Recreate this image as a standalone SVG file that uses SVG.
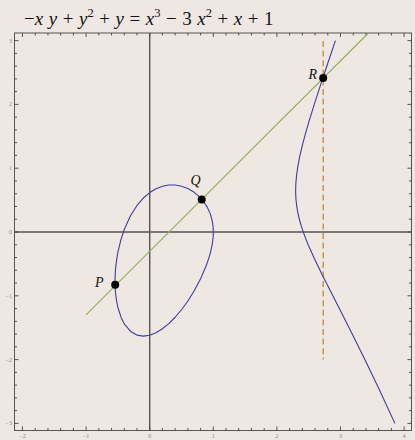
<svg xmlns="http://www.w3.org/2000/svg" width="415" height="440" viewBox="0 0 415 440">
<style>
.bg{fill:#efe7e1}
.frame{fill:none;stroke:#555;stroke-width:1}
.tick{fill:none;stroke:#444;stroke-width:0.9}
.axis{fill:none;stroke:#555;stroke-width:1.4}
.tl{font-family:"Liberation Serif",serif;font-size:6px;fill:#888}
.title{font-family:"Liberation Serif",serif;font-size:19px;fill:#111;word-spacing:0.8px}
.it{font-style:italic}
.curve{fill:none;stroke:#3d3d9e;stroke-width:1.1;stroke-linejoin:round}
.secant{fill:none;stroke:#8db05a;stroke-width:1.1}
.dash{fill:none;stroke:#c48a32;stroke-width:1.3;stroke-dasharray:6 3.6}
.pt{fill:#000}
.lab{font-family:"Liberation Serif",serif;font-style:italic;font-size:14px;fill:#111}
</style>
<rect class="bg" x="0" y="0" width="415" height="440"/>
<text class="title" x="24" y="24.5">−<tspan class="it">x</tspan> <tspan class="it">y</tspan> + <tspan class="it">y</tspan><tspan font-size="12.5" dy="-7.5">2</tspan><tspan dy="7.5"> + </tspan><tspan class="it">y</tspan> = <tspan class="it">x</tspan><tspan font-size="12.5" dy="-7.5">3</tspan><tspan dy="7.5"> − 3 </tspan><tspan class="it">x</tspan><tspan font-size="12.5" dy="-7.5">2</tspan><tspan dy="7.5"> + </tspan><tspan class="it">x</tspan> + 1</text>
<g id="axes">
<path class="axis" d="M149.7 33V430.5M14.5 232H411.5"/>
<rect class="frame" x="14.5" y="33" width="397" height="397.5"/>
<path class="tick" d="M22.5 430.5v-4M86.1 430.5v-4M149.7 430.5v-4M213.3 430.5v-4M276.9 430.5v-4M340.5 430.5v-4M404.1 430.5v-4M22.5 33v4M86.1 33v4M149.7 33v4M213.3 33v4M276.9 33v4M340.5 33v4M404.1 33v4M14.5 40.6h4M14.5 104.4h4M14.5 168.2h4M14.5 232h4M14.5 295.8h4M14.5 359.6h4M14.5 423.4h4M411.5 40.6h-4M411.5 104.4h-4M411.5 168.2h-4M411.5 232h-4M411.5 295.8h-4M411.5 359.6h-4M411.5 423.4h-4"/>
<path class="tick" d="M35.22 430.5v-2.5M47.94 430.5v-2.5M60.66 430.5v-2.5M73.38 430.5v-2.5M98.82 430.5v-2.5M111.54 430.5v-2.5M124.26 430.5v-2.5M136.98 430.5v-2.5M162.42 430.5v-2.5M175.14 430.5v-2.5M187.86 430.5v-2.5M200.58 430.5v-2.5M226.02 430.5v-2.5M238.74 430.5v-2.5M251.46 430.5v-2.5M264.18 430.5v-2.5M289.62 430.5v-2.5M302.34 430.5v-2.5M315.06 430.5v-2.5M327.78 430.5v-2.5M353.22 430.5v-2.5M365.94 430.5v-2.5M378.66 430.5v-2.5M391.38 430.5v-2.5M35.22 33v2.5M47.94 33v2.5M60.66 33v2.5M73.38 33v2.5M98.82 33v2.5M111.54 33v2.5M124.26 33v2.5M136.98 33v2.5M162.42 33v2.5M175.14 33v2.5M187.86 33v2.5M200.58 33v2.5M226.02 33v2.5M238.74 33v2.5M251.46 33v2.5M264.18 33v2.5M289.62 33v2.5M302.34 33v2.5M315.06 33v2.5M327.78 33v2.5M353.22 33v2.5M365.94 33v2.5M378.66 33v2.5M391.38 33v2.5M14.5 53.36h2.5M14.5 66.12h2.5M14.5 78.88h2.5M14.5 91.64h2.5M14.5 117.16h2.5M14.5 129.92h2.5M14.5 142.68h2.5M14.5 155.44h2.5M14.5 180.96h2.5M14.5 193.72h2.5M14.5 206.48h2.5M14.5 219.24h2.5M14.5 244.76h2.5M14.5 257.52h2.5M14.5 270.28h2.5M14.5 283.04h2.5M14.5 308.56h2.5M14.5 321.32h2.5M14.5 334.08h2.5M14.5 346.84h2.5M14.5 372.36h2.5M14.5 385.12h2.5M14.5 397.88h2.5M14.5 410.64h2.5M411.5 53.36h-2.5M411.5 66.12h-2.5M411.5 78.88h-2.5M411.5 91.64h-2.5M411.5 117.16h-2.5M411.5 129.92h-2.5M411.5 142.68h-2.5M411.5 155.44h-2.5M411.5 180.96h-2.5M411.5 193.72h-2.5M411.5 206.48h-2.5M411.5 219.24h-2.5M411.5 244.76h-2.5M411.5 257.52h-2.5M411.5 270.28h-2.5M411.5 283.04h-2.5M411.5 308.56h-2.5M411.5 321.32h-2.5M411.5 334.08h-2.5M411.5 346.84h-2.5M411.5 372.36h-2.5M411.5 385.12h-2.5M411.5 397.88h-2.5M411.5 410.64h-2.5"/>
<g class="tl" text-anchor="middle">
<text x="22.5" y="438">−2</text><text x="86.1" y="438">−1</text><text x="149.7" y="438">0</text><text x="213.3" y="438">1</text><text x="276.9" y="438">2</text><text x="340.5" y="438">3</text><text x="404.1" y="438">4</text>
</g>
<g class="tl" text-anchor="end">
<text x="12" y="42.6">3</text><text x="12" y="106.4">2</text><text x="12" y="170.2">1</text><text x="12" y="234">0</text><text x="12" y="297.8">−1</text><text x="12" y="361.6">−2</text><text x="12" y="425.4">−3</text>
</g>
</g>
<g id="connectors">
<path class="dash" d="M323.2 41V359.6"/>
<path class="secant" d="M86 314.9L368.4 33"/>
</g>
<g id="curve">
<path class="curve" d="M115.06 281.28L115.09 278.27L115.17 275.68L115.36 271.96L115.67 267.86L116.63 259.74L117.9 252.22L121.08 239.08L124.26 229.52L130.62 215.5L136.98 205.47L143.34 198.03L149.7 192.57L156.06 188.71L162.42 186.24L168.78 185.04L175.14 185.02L181.5 186.17L187.86 188.56L194.22 192.34L200.58 197.92L206.94 206.55L210.12 213.37L212.03 219.86L212.66 223.29L212.98 225.78L213.24 229.18L213.3 232L213.24 234.88L212.98 238.54L212.66 241.35L212.03 245.42L210.12 253.82L206.94 263.83L200.58 278.84L194.22 290.8L187.86 300.96L181.5 309.73L175.14 317.26L168.78 323.62L162.42 328.8L156.06 332.71L149.7 335.23L143.34 336.15L136.98 335.09L130.62 331.44L124.26 323.8L121.08 317.43L117.9 307.48L116.63 301.24L115.67 294.08L115.36 290.29L115.17 286.77L115.09 284.25Z"/>
<path class="curve" d="M335.41 40.63L327.78 63.3L321.42 82.38L315.06 101.89L308.7 122.37L305.52 133.36L302.34 145.31L299.8 156.22L297.89 166.14L296.62 174.96L295.98 181.62L295.73 186.29L295.64 190.7L295.73 195.01L295.98 199.44L296.62 205.46L297.89 213L299.8 221.01L302.34 229.37L305.52 238.13L308.7 245.93L315.06 260.03L321.42 273.16L327.78 285.86L335.41 300.87L340.5 310.86L353.22 336.06L365.94 361.82L378.66 388.34L394.88 423.37"/>
</g>
<g id="P"><circle class="pt" cx="115.2" cy="284.8" r="4"/><text class="lab" x="95" y="287">P</text></g>
<g id="Q"><circle class="pt" cx="201.7" cy="199.4" r="4"/><text class="lab" x="190.5" y="185">Q</text></g>
<g id="R"><circle class="pt" cx="323.2" cy="78" r="4"/><text class="lab" x="308.5" y="78.5">R</text></g>
</svg>
